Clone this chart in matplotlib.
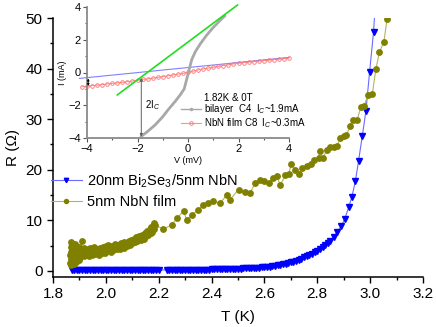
import matplotlib
matplotlib.use("Agg")
import matplotlib.pyplot as plt
from matplotlib.ticker import MultipleLocator
from matplotlib.lines import Line2D

plt.rcParams['font.family'] = ['Liberation Sans', 'DejaVu Sans']
plt.rcParams['mathtext.fontset'] = 'custom'
plt.rcParams['mathtext.rm'] = 'Liberation Sans'
plt.rcParams['mathtext.it'] = 'Liberation Sans:italic'

# ---------------- main data: R(T) ----------------
bil_T = [1.87, 1.88, 1.89, 1.90, 1.91, 1.92, 1.93, 1.94, 1.95, 1.96, 1.97, 1.98,
         1.99, 2.00, 2.01, 2.02, 2.03, 2.04, 2.05, 2.06, 2.07, 2.08, 2.09, 2.10,
         2.11, 2.12, 2.13, 2.14, 2.15, 2.16, 2.17, 2.18, 2.19, 2.20,
         2.23, 2.24, 2.25, 2.26, 2.27, 2.28, 2.29, 2.30, 2.31, 2.32, 2.33, 2.34,
         2.35, 2.36, 2.37, 2.38, 2.39, 2.40, 2.41, 2.42, 2.43, 2.44, 2.45, 2.46,
         2.47, 2.48, 2.49, 2.50, 2.51, 2.52, 2.53, 2.54, 2.55, 2.56, 2.57, 2.58,
         2.59, 2.60, 2.61, 2.62, 2.63, 2.64, 2.65, 2.66, 2.67, 2.68, 2.69, 2.70,
         2.71, 2.72, 2.73, 2.74, 2.75, 2.76, 2.77, 2.78, 2.79, 2.80, 2.81, 2.82,
         2.83, 2.84, 2.85,
         2.862, 2.875, 2.890, 2.904, 2.919, 2.931, 2.944, 2.956, 2.970, 2.984,
         2.998, 3.013, 3.022]
bil_R = [0.20, 0.20, 0.21, 0.20, 0.21, 0.20, 0.21, 0.20, 0.21, 0.20, 0.21, 0.20,
         0.21, 0.20, 0.21, 0.20, 0.21, 0.20, 0.21, 0.20, 0.21, 0.20, 0.21, 0.20,
         0.21, 0.20, 0.21, 0.20, 0.21, 0.20, 0.21, 0.20, 0.21, 0.20,
         0.20, 0.21, 0.21, 0.22, 0.22, 0.22, 0.23, 0.23, 0.24, 0.24, 0.25, 0.25,
         0.26, 0.27, 0.27, 0.28, 0.29, 0.30, 0.31, 0.32, 0.33, 0.34, 0.35, 0.37,
         0.39, 0.41, 0.43, 0.45, 0.47, 0.49, 0.51, 0.53, 0.55, 0.58, 0.62, 0.66,
         0.70, 0.75, 0.81, 0.87, 0.94, 1.02, 1.10, 1.20, 1.30, 1.42, 1.55, 1.70,
         1.86, 2.03, 2.21, 2.45, 2.70, 2.95, 3.20, 3.45, 3.70, 4.00, 4.35, 4.70,
         5.05, 5.55, 6.00,
         6.7, 7.7, 8.8, 10.3, 12.6, 14.7, 17.7, 21.7, 26.6, 31.6,
         39.4, 47.3, 55.0]

nbn_T = [1.866, 1.866, 1.867, 1.867, 1.868, 1.868, 1.869, 1.870, 1.870, 1.871,
         1.872, 1.872, 1.873, 1.874, 1.875, 1.876, 1.877, 1.878, 1.879, 1.880,
         1.881, 1.882, 1.883, 1.884, 1.885, 1.886, 1.887, 1.888, 1.889, 1.890,
         1.891, 1.892, 1.893, 1.894, 1.895, 1.896, 1.897, 1.898, 1.899, 1.900,
         1.902, 1.904, 1.906, 1.908, 1.910, 1.912, 1.914, 1.916, 1.918, 1.920,
         1.923, 1.926, 1.929, 1.932, 1.935, 1.938, 1.941, 1.944, 1.947, 1.950,
         1.953, 1.956, 1.959, 1.962, 1.965, 1.968, 1.971, 1.974, 1.977, 1.980,
         1.983, 1.986, 1.989, 1.992, 1.995, 1.998, 2.001, 2.004, 2.007, 2.010,
         2.013, 2.016, 2.019, 2.022, 2.025, 2.028, 2.031, 2.034, 2.037, 2.040,
         2.043, 2.046, 2.049, 2.052, 2.055, 2.058, 2.061, 2.064, 2.067, 2.070,
         2.073, 2.076, 2.079, 2.082, 2.085, 2.088, 2.091, 2.094, 2.097, 2.100,
         2.103, 2.106, 2.109, 2.112, 2.115, 2.118, 2.121, 2.124, 2.127, 2.130,
         2.133, 2.136, 2.139, 2.142, 2.145, 2.148, 2.151, 2.154, 2.157, 2.160,
         2.163, 2.166, 2.169, 2.172, 2.175, 2.178, 2.181, 2.184, 2.187,
         2.218, 2.250, 2.268, 2.294, 2.306, 2.325, 2.350, 2.369, 2.388, 2.407,
         2.433, 2.458, 2.470, 2.502, 2.527, 2.546, 2.565, 2.584, 2.597, 2.616,
         2.634, 2.647, 2.660, 2.679, 2.692, 2.702, 2.717, 2.731, 2.742, 2.761,
         2.777, 2.789, 2.805, 2.809, 2.821, 2.837, 2.849, 2.862, 2.875, 2.887,
         2.900, 2.909, 2.925, 2.937, 2.950, 2.966, 2.978, 2.991, 3.008, 3.022,
         3.035, 3.052, 3.064]
nbn_R = [1.5, 3.2, 4.8, 2.4, 5.7, 1.1, 3.8, 2.0, 4.4, 5.2,
         1.6, 3.0, 4.0, 2.6, 5.0, 1.9, 3.5, 4.6, 2.2, 3.9,
         1.4, 5.3, 3.1, 2.5, 4.2, 3.3, 1.8, 4.9, 2.9, 3.7,
         2.3, 4.5, 3.0, 3.8, 2.7, 4.1, 3.4, 2.1, 4.7, 3.2,
         3.9, 2.8, 4.3, 5.9, 3.5, 4.0, 3.1, 4.6, 2.9, 3.6,
         4.2, 3.3, 3.8, 4.4, 3.0, 3.9, 4.6, 3.5, 3.2, 4.1,
         3.7, 4.8, 3.4, 4.0, 3.6, 4.3, 3.9, 3.1, 4.5, 3.8,
         4.2, 3.5, 4.7, 4.0, 3.6, 4.4, 4.9, 3.9, 4.3, 5.1,
         4.1, 4.6, 3.8, 4.4, 5.0, 4.2, 4.7, 5.3, 4.5, 4.9,
         4.3, 5.2, 4.6, 5.0, 4.4, 5.5, 4.8, 5.2, 4.6, 5.7,
         5.0, 5.4, 4.9, 5.8, 5.3, 6.0, 5.1, 5.6, 6.2, 5.5,
         5.9, 6.4, 5.7, 6.1, 6.7, 6.0, 6.5, 7.0, 6.3, 6.8,
         6.2, 7.2, 6.6, 7.0, 6.4, 7.5, 6.9, 7.3, 8.0, 7.1,
         7.7, 8.3, 7.5, 8.7, 7.8, 8.9, 8.2, 9.5, 9.0,
         8.3, 9.1, 10.4, 11.8, 10.1, 11.1, 12.1, 13.1, 13.4, 13.8,
         13.4, 15.1, 14.1, 16.1, 15.7, 15.4, 17.4, 18.0, 17.7, 17.4,
         18.4, 18.7, 17.0, 18.9, 19.2, 21.2, 20.0, 19.2, 20.4, 20.7,
         21.2, 21.9, 22.4, 23.7, 22.4, 23.9, 24.5, 24.6, 24.8, 26.2,
         26.6, 26.8, 28.6, 29.8, 29.8, 32.5, 32.7, 34.8, 34.9, 40.0,
         43.2, 45.3, 49.8]

series_labels = [r"20nm Bi$_2$Se$_3$/5nm NbN", "5nm NbN film"]
x_ticks = [1.8, 2.0, 2.2, 2.4, 2.6, 2.8, 3.0, 3.2]
y_ticks = [0, 10, 20, 30, 40, 50]

# ---------------- inset data: I(V) ----------------
blue_V = [-4.3, 4.0]
blue_I = [-0.36, 0.92]

red_V = [-4.2, -4.0, -3.8, -3.6, -3.4, -3.2, -3.0, -2.8, -2.6, -2.4, -2.2,
         -2.0, -1.8, -1.6, -1.4, -1.2, -1.0, -0.8, -0.6, -0.4, -0.2, 0.0,
         0.2, 0.4, 0.6, 0.8, 1.0, 1.2, 1.4, 1.6, 1.8, 2.0, 2.2, 2.4, 2.6,
         2.8, 3.0, 3.2, 3.4, 3.6, 3.8, 4.0]
red_I = [-0.87, -0.84, -0.80, -0.77, -0.74, -0.70, -0.67, -0.63, -0.60, -0.56, -0.52,
         -0.48, -0.42, -0.39, -0.35, -0.30, -0.25, -0.20, -0.15, -0.10, -0.05, 0.01,
         0.08, 0.16, 0.22, 0.27, 0.32, 0.37, 0.42, 0.47, 0.52, 0.56, 0.60, 0.63, 0.66,
         0.69, 0.72, 0.75, 0.78, 0.81, 0.84, 0.87]

gray_V = [-1.85, -1.6, -1.3, -1.0, -0.8, -0.5, -0.3, -0.15, 0.0, 0.15, 0.3, 0.5,
          0.75, 1.0, 1.25, 1.45]
gray_I = [-3.9, -3.6, -3.2, -2.7, -2.3, -1.75, -1.35, -1.0, -0.1, 0.8, 1.3, 1.78,
          2.3, 2.75, 3.15, 3.45]

green_V = [-2.8, 1.96]
green_I = [-1.37, 4.12]

inset_ticks = [-4, -2, 0, 2, 4]

# ---------------- figure ----------------
fig = plt.figure(figsize=(4.36, 3.27), dpi=100)
ax = fig.add_axes([53/436, 1 - 277/327, 370/436, 259/327])

ax.plot(bil_T, bil_R, color='#6a6aff', lw=0.8, marker='v', ms=4.2, mec='#0000ff',
        mfc='#0000ff', label=series_labels[0])
ax.plot(nbn_T, nbn_R, color='#b4b460', lw=0.8, marker='o', ms=3.9, mec='#808000',
        mfc='#808000', label=series_labels[1])
ax.set_xlim(1.8, 3.2)
ax.set_ylim(-1.19, 50)
ax.set_xticks(x_ticks)
ax.set_xticklabels([f"{t:.1f}" for t in x_ticks])
ax.set_yticks(y_ticks)
ax.xaxis.set_minor_locator(MultipleLocator(0.1))
ax.yaxis.set_minor_locator(MultipleLocator(5))
for s in ['top', 'right']:
    ax.spines[s].set_visible(False)
for s in ['left', 'bottom']:
    ax.spines[s].set_linewidth(1.1)
ax.tick_params(which='major', length=4, width=1.0, labelsize=11)
ax.tick_params(which='minor', length=2.2, width=1.0)
ax.set_xlabel("T (K)", fontsize=11, labelpad=6)
ax.set_ylabel("R (Ω)", fontsize=11, labelpad=4)

leg = ax.legend(loc='upper left', bbox_to_anchor=(-0.005, 0.405), frameon=False,
                fontsize=10.5, handlelength=2.1, handletextpad=0.35,
                labelspacing=0.35, borderpad=0, borderaxespad=0, markerscale=0.75)

# ---------------- inset ----------------
ins = fig.add_axes([87/436, 1 - 138/327, 202/436, 131/327])
ins.set_facecolor('none')
ins.plot(blue_V, blue_I, color='#8080ff', lw=0.8, clip_on=False)
ins.plot(red_V, red_I, color='#ff9090', lw=0.7, marker='o', ms=2.6, mfc='none',
         mec='#ff7070', mew=0.6, clip_on=False)
ins.plot(gray_V, gray_I, color='#a8a8a8', lw=2.0, clip_on=False)
ins.plot(green_V, green_I, color='#22dd22', lw=1.2, clip_on=False)

ins.annotate('', xy=(-1.85, -3.92), xytext=(-1.85, -0.33),
             arrowprops=dict(arrowstyle='<|-|>', color='#606060', lw=0.7,
                             mutation_scale=4, shrinkA=0, shrinkB=0))
ins.annotate('', xy=(-3.95, -0.82), xytext=(-3.95, -0.37),
             arrowprops=dict(arrowstyle='<|-|>', color='black', lw=0.6,
                             mutation_scale=3, shrinkA=0, shrinkB=0))
ins.text(-1.72, -2.0, r"2I$_C$", fontsize=7, va='center', ha='left')

ins.text(0.62, -1.56, "1.82K & 0T", fontsize=7, va='center', ha='left')
ins.add_line(Line2D([-0.29, 0.5], [-2.23, -2.23], color='#a8a8a8', lw=1.0))
ins.add_line(Line2D([0.1], [-2.23], color='#a8a8a8', marker='o', ms=1.5))
ins.text(0.62, -2.23, r"bilayer  C4  I$_C$~1.9mA", fontsize=7, va='center', ha='left')
ins.add_line(Line2D([-0.29, 0.5], [-3.08, -3.08], color='#ff9090', lw=0.8))
ins.add_line(Line2D([0.1], [-3.08], color='#ff7070', marker='o', ms=2.6, mfc='none', mew=0.6))
ins.text(0.62, -3.08, r"NbN film C8  I$_C$~0.3mA", fontsize=7, va='center', ha='left',
         clip_on=False)

ins.set_xlim(-4, 4)
ins.set_ylim(-4, 4)
ins.set_xticks(inset_ticks)
ins.set_yticks(inset_ticks)
ins.xaxis.set_minor_locator(MultipleLocator(1))
ins.yaxis.set_minor_locator(MultipleLocator(1))
for s in ['top', 'right']:
    ins.spines[s].set_visible(False)
for s in ['left', 'bottom']:
    ins.spines[s].set_color('#8a8a8a')
    ins.spines[s].set_linewidth(1.3)
ins.tick_params(which='major', length=3, width=0.8, labelsize=8, pad=1.5, color='#555555')
ins.tick_params(which='minor', length=1.6, width=0.8, color='#555555')
ins.set_xlabel("V (mV)", fontsize=6.5, labelpad=1)
ins.set_ylabel("I (mA)", fontsize=6.5, labelpad=1)

fig.savefig("out.png", dpi=100)
